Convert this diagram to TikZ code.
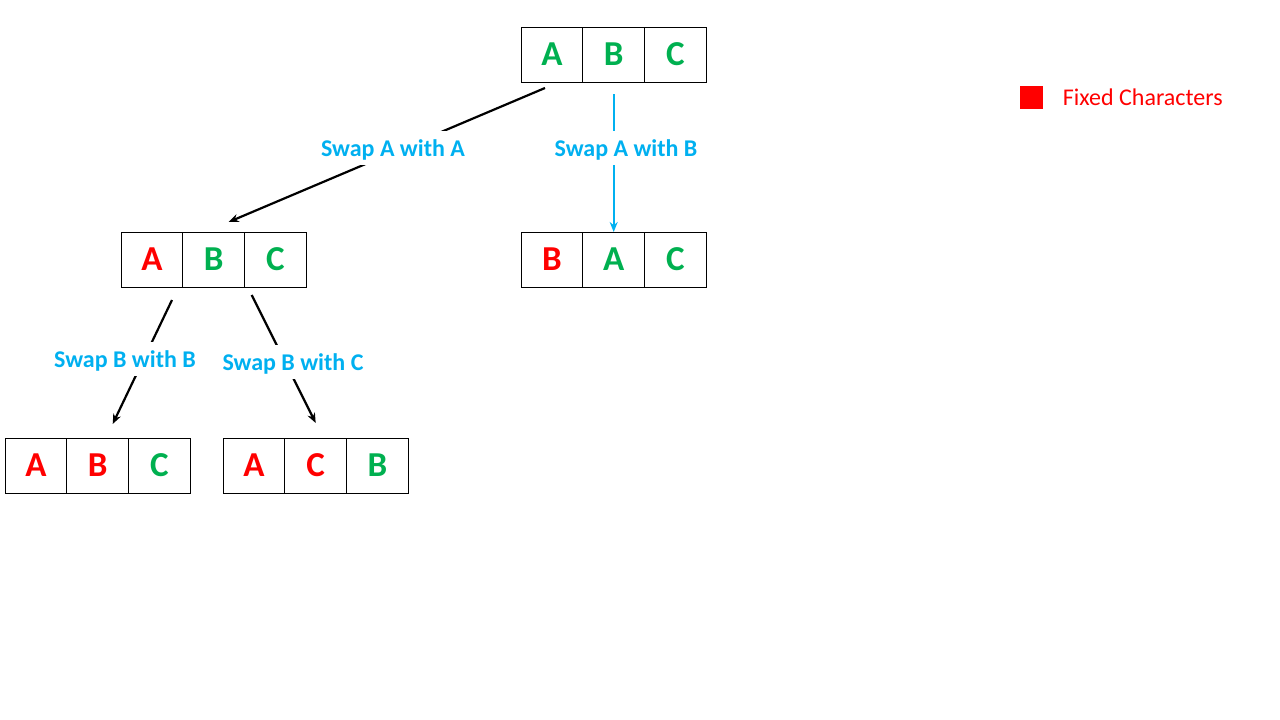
\documentclass[tikz,border=0pt]{standalone}
\usepackage{fontspec}
\setmainfont{Carlito}
\usetikzlibrary{positioning, arrows.meta, calc}
\definecolor{fixred}{HTML}{FF0000}
\definecolor{freegreen}{HTML}{00B050}
\definecolor{swapblue}{HTML}{00B0F0}

\begin{document}
\begin{tikzpicture}[
  x=1pt, y=-1pt, >={Stealth[length=10pt, width=8pt]},
  cell/.style={draw, line width=0.8pt, minimum width=61.7pt, minimum height=55pt, inner sep=0pt, outer sep=0pt, text depth=-3pt, font=\fontsize{35}{40}\selectfont\bfseries},
  fix/.style={cell, text=fixred},
  free/.style={cell, text=freegreen},
  lbl/.style={fill=white, text=swapblue, inner xsep=2pt, inner ysep=9pt, text depth=0pt, font=\fontsize{24}{28}\selectfont\bfseries},
  swapline/.style={->, line width=2.2pt},
]
  \path[fill=white, use as bounding box] (0,0) rectangle (1280,720);

  % root
  \node[free] (r1) at (552,54.5) {A};
  \node[free, right=0pt of r1] (r2) {B};
  \node[free, right=0pt of r2] (r3) {C};
  % level one
  \node[fix] (l1) at (152,259.5) {A};
  \node[free, right=0pt of l1] (l2) {B};
  \node[free, right=0pt of l2] (l3) {C};
  \node[fix] (b1) at (552,259.5) {B};
  \node[free, right=0pt of b1] (b2) {A};
  \node[free, right=0pt of b2] (b3) {C};
  % level two
  \node[fix] (ll1) at (36,465.5) {A};
  \node[fix, right=0pt of ll1] (ll2) {B};
  \node[free, right=0pt of ll2] (ll3) {C};
  \node[fix] (lr1) at (254,465.5) {A};
  \node[fix, right=0pt of lr1] (lr2) {C};
  \node[free, right=0pt of lr2] (lr3) {B};

  \draw[swapline] ($(r1.south)+(-7,6)$) -- ($(l2.north)+(15,-10)$);
  \draw[swapline, swapblue, line width=2pt] ($(r2.south)+(0,12)$) -- (b2.north);
  \draw[swapline] ($(l1.south)+(20,13)$) -- ($(ll2.north)+(15,-14)$);
  \draw[swapline] ($(l2.south)+(38,8)$) -- ($(lr2.north)+(0,-15)$);

  \node[lbl] (s1) at (393,148) {Swap A with A};
  \node[lbl] (s2) at (626,148) {Swap A with B};
  \node[lbl] (s3) at (125,359) {Swap B with B};
  \node[lbl] (s4) at (293,362) {Swap B with C};

  % legend
  \node[fill=fixred, minimum size=23pt, inner sep=0pt] (key) at (1031,97) {};
  \node[right=20pt of key, inner sep=0pt, text=fixred, font=\fontsize{24}{28}\selectfont] (keytxt) {Fixed Characters};
\end{tikzpicture}
\end{document}
